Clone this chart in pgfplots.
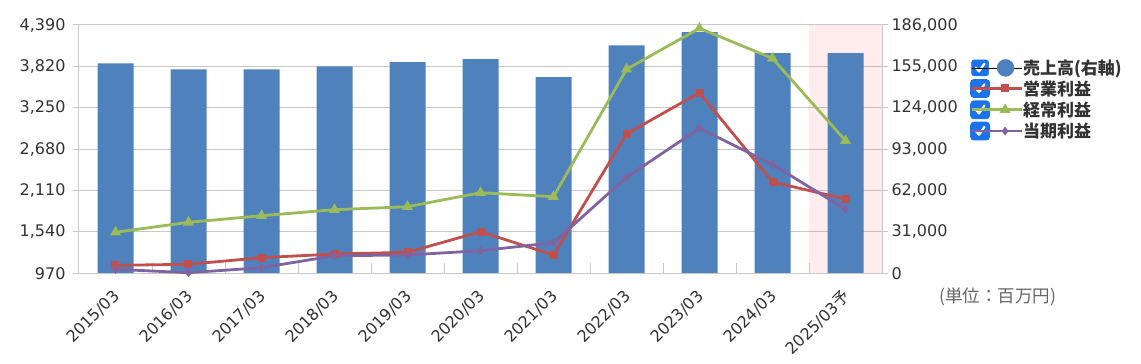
\documentclass[border=0pt]{standalone}
\usepackage{pgfplots}
\pgfplotsset{compat=1.18}
\usepackage{fontspec}
\setmainfont{DejaVu Sans}
\newfontfamily\cjk{Noto Sans CJK JP}
\definecolor{barblue}{HTML}{4F81BD}
\definecolor{lred}{HTML}{C0504D}
\definecolor{lgreen}{HTML}{9BBB59}
\definecolor{lpurple}{HTML}{8064A2}
\definecolor{gridc}{HTML}{C8C8C8}
\definecolor{txt}{HTML}{333333}
\definecolor{cb}{HTML}{1A73E8}
\newcommand\cbox{%
  \fill[cb, rounded corners=2.5pt] (0pt,-8pt) rectangle (17pt,8pt);
  \draw[white, line width=2.2pt, line cap=round, line join=round] (4.2pt,0.2pt) -- (7.4pt,-3.6pt) -- (12.8pt,4.2pt);
  \path (0pt,0pt) -- (50pt,0pt);}
\pgfplotsset{
  common/.style={at={(0pt,0pt)}, anchor=south west, scale only axis,
    width=803pt, height=248.3pt, xmin=-0.5, xmax=10.5,
    axis line style={gridc, line width=1pt},
    tick style={gridc, line width=1pt}},
}
\begin{document}
\begin{tikzpicture}
\useasboundingbox (-79pt,-90.7pt) rectangle (1062pt,273.3pt);
% bars axis (right)
\begin{axis}[common, ymin=0, ymax=186000,
  axis y line*=right, axis x line*=bottom,
  ytick={0,31000,62000,93000,124000,155000,186000},
  yticklabels={0,{31,000},{62,000},{93,000},{124,000},{155,000},{186,000}},
  scaled y ticks=false,
  ymajorgrids, grid style={gridc, line width=1pt},
  tick align=outside, major tick length=6pt,
  yticklabel style={font=\fontsize{16}{16}\selectfont, text=txt},
  xtick={0,1,2,3,4,5,6,7,8,9,10},
  xticklabels={2015/03,2016/03,2017/03,2018/03,2019/03,2020/03,2021/03,2022/03,2023/03,2024/03,{2025/03{\cjk 予}}},
  major x tick style={draw=none},
  xticklabel style={xshift=-3.5pt, yshift=-9pt, rotate=45, anchor=north east, inner sep=0pt, font=\fontsize{16}{16}\selectfont, text=txt},
]
\addplot[fill=red, fill opacity=0.07, draw=none, forget plot] coordinates {(9.5,186000) (10.5,186000)} \closedcycle;
\addplot[ybar, bar width=36pt, fill=barblue, draw=none] coordinates {
(0,157300) (1,152800) (2,152800) (3,155000) (4,158250) (5,160500)
(6,147000) (7,170750) (8,180750) (9,165000) (10,165000)};
\end{axis}
% minor boundary ticks
\begin{axis}[common, ymin=0, ymax=1, ytick=\empty, hide y axis, axis x line*=bottom,
  xtick={0.5,1.5,2.5,3.5,4.5,5.5,6.5,7.5,8.5,9.5}, xticklabels=\empty, tick align=inside, major tick length=10pt]
\end{axis}
% lines axis (left)
\begin{axis}[common, ymin=970, ymax=4390,
  axis y line*=left, hide x axis,
  ytick={970,1540,2110,2680,3250,3820,4390},
  yticklabels={970,{1,540},{2,110},{2,680},{3,250},{3,820},{4,390}},
  tick align=outside, major tick length=6pt,
  yticklabel style={xshift=-4pt, font=\fontsize{16}{16}\selectfont, text=txt},
  legend image code/.code={\cbox
    \draw[mark repeat=2, mark phase=2, #1] plot coordinates {(22pt,0pt) (33.5pt,0pt) (45pt,0pt)};},
  legend style={at={(1,1)}, anchor=north west, xshift=88pt, yshift=-34pt,
    draw=none, fill=none, inner sep=0pt, row sep=2.5pt,
    font=\cjk\bfseries\fontsize{17}{17}\selectfont, text=txt,
    nodes={inner sep=0pt, anchor=west}},
]
\addlegendimage{legend image code/.code={\cbox \fill[barblue] (34pt,0pt) circle (8.5pt);}}
\addlegendentry{売上高(右軸)}
\addplot[lred, line width=2.8pt, mark=square*, mark size=2.6pt] coordinates {
(0,1080) (1,1094) (2,1185) (3,1236) (4,1259) (5,1543) (6,1222) (7,2889) (8,3458) (9,2228) (10,1993)};
\addlegendentry{営業利益}
\addplot[lgreen, line width=2.8pt, mark=triangle*, mark size=3.6pt] coordinates {
(0,1535) (1,1672) (2,1763) (3,1846) (4,1887) (5,2080) (6,2025) (7,3780) (8,4345) (9,3931) (10,2796)};
\addlegendentry{経常利益}
\addplot[lpurple, line width=2.8pt, mark=diamond*, mark size=2.2pt] coordinates {
(0,1025) (1,978) (2,1047) (3,1212) (4,1222) (5,1281) (6,1391) (7,2292) (8,2967) (9,2470) (10,1851)};
\addlegendentry{当期利益}
\end{axis}
\node[font=\cjk\fontsize{17.5}{17.5}\selectfont, text=black!60] at (918.5pt,-23.7pt) {(単位：百万円)};
\end{tikzpicture}
\end{document}
